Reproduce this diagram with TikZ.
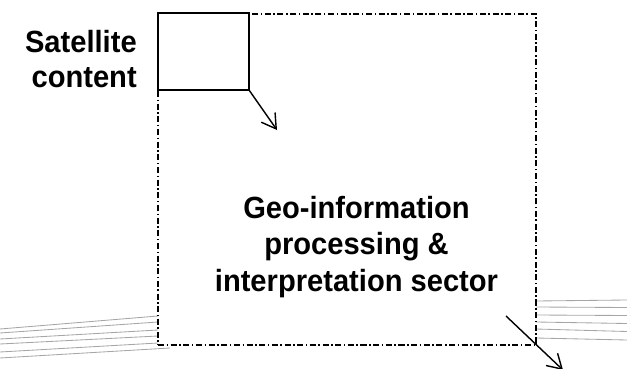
\documentclass[tikz,border=0pt]{standalone}
\usepackage{fontspec}
\setmainfont{Liberation Sans}[FakeStretch=0.95]
\usetikzlibrary{arrows.meta}
\pgfdeclarelayer{background}
\pgfdeclarelayer{foreground}
\pgfsetlayers{background,main,foreground}

\tikzset{
  sectorframe/.style={draw, line width=1.2pt, dash pattern=on 4.3pt off 1.8pt on 1.1pt off 1.8pt, inner sep=0pt, outer sep=0pt},
  satbox/.style={draw, fill=white, line width=1.2pt, inner sep=0pt, outer sep=0pt, minimum width=2.275cm, minimum height=1.925cm},
  bigtext/.style={font=\bfseries\fontsize{21.8pt}{25pt}\selectfont, inner sep=0pt},
  flow/.style={line width=1pt, -{Straight Barb[length=10pt,width=12pt,line width=1pt]}},
  strand/.style={gray!70, line width=0.6pt}
}

\begin{document}
\begin{tikzpicture}[x=0.025cm,y=-0.025cm]
\useasboundingbox (0,0) rectangle (627,369);
\begin{pgfonlayer}{background}
% strands entering on the left
\foreach \ya/\yb/\xb in {329/316/158,333/322/158,339/330/158,344/336/158,352/343/158,358/348/170}
  \draw[strand] (0,\ya) -- (\xb,\yb);
% strands leaving on the right
\foreach \ya/\yb in {301/300,307/307.5,315/315.5,322/323.5,329/331.5,338/340}
  \draw[strand] (536,\ya) -- (627,\yb);
\end{pgfonlayer}
\node[sectorframe, anchor=north west, minimum width=9.45cm, minimum height=8.275cm] (sector) at (158,14) {};
\node[satbox, anchor=north west] (satbox) at (158,13) {};
\node[bigtext, align=right, anchor=east] (satlabel) at (137,59) {Satellite\\content};
\node[bigtext, align=center, font=\bfseries\fontsize{21.8pt}{26pt}\selectfont] (geo) at (356.5,247) {Geo-information\\processing \&\\interpretation sector};
\coordinate (satout) at (277,130);
\coordinate (geoin) at (506,316);
\coordinate (geoout) at (563,370);
\begin{pgfonlayer}{foreground}
\draw[flow] (satbox.south east) -- (satout);
\draw[flow] (geoin) -- (geoout);
\end{pgfonlayer}
\end{tikzpicture}
\end{document}
